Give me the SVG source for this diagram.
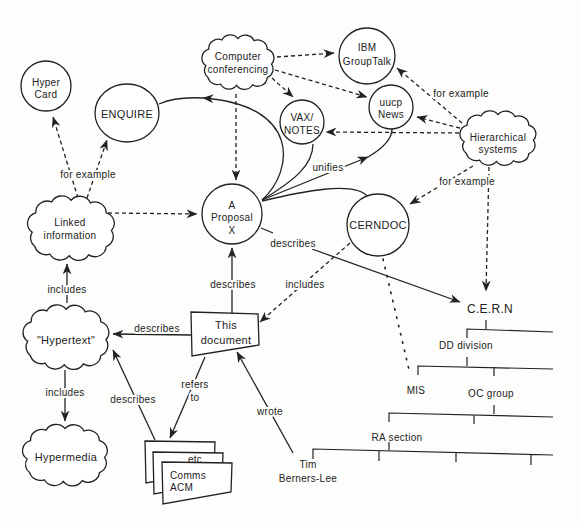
<svg xmlns="http://www.w3.org/2000/svg" xmlns:xlink="http://www.w3.org/1999/xlink" width="579" height="526" viewBox="0 0 579 526">
<style>
text{font-family:"Liberation Sans","DejaVu Sans",sans-serif;font-size:10px;fill:#222;text-anchor:middle;letter-spacing:0.3px}
.big{font-size:11px}
.lbl{paint-order:stroke;stroke:#fdfdfb;stroke-width:4px;stroke-linejoin:round}
.n{fill:#fff;stroke:#222;stroke-width:1.3}
.c{fill:none;stroke:#222;stroke-width:1.3}
.d{fill:none;stroke:#222;stroke-width:1.3;stroke-dasharray:4 3}
.dot{fill:none;stroke:#222;stroke-width:1.6;stroke-dasharray:1.5 7;stroke-linecap:round}
.t{fill:none;stroke:#222;stroke-width:1.2}
</style>
<defs>
<marker id="ah" viewBox="0 0 10 8" refX="9.5" refY="4" markerWidth="11" markerHeight="9" markerUnits="userSpaceOnUse" orient="auto"><path d="M0,0 L10,4 L0,8 L3,4 z" fill="#222"/></marker>
<path id="cloud" vector-effect="non-scaling-stroke" fill="#fff" stroke="#222" stroke-width="1.3" d="M-44,5 A13,13 0 0 1 -40,-18 A13,13 0 0 1 -22,-31 A13,13 0 0 1 0,-33 A13,13 0 0 1 22,-30 A13,13 0 0 1 40,-18 A13,13 0 0 1 46,3 A13,13 0 0 1 40,22 A13,13 0 0 1 20,32 A13,13 0 0 1 -2,33 A13,13 0 0 1 -24,31 A13,13 0 0 1 -41,22 A13,13 0 0 1 -44,5 Z"/>
</defs>
<rect width="579" height="526" fill="#fdfdfb"/>

<g id="connectors">
<path class="d" d="M78,198 L53,117" marker-end="url(#ah)"/>
<path class="d" d="M87,198 L107,140" marker-end="url(#ah)"/>
<path class="d" d="M108,213 L197,214" marker-end="url(#ah)"/>
<path class="d" d="M236,94 L236,180" marker-end="url(#ah)"/>
<path class="d" d="M277,57 L334,53" marker-end="url(#ah)"/>
<path class="d" d="M275,70 L367,97" marker-end="url(#ah)"/>
<path class="d" d="M272,78 L293,97" marker-end="url(#ah)"/>
<path class="d" d="M462,123 L397,68" marker-end="url(#ah)"/>
<path class="d" d="M460,128 L417,117" marker-end="url(#ah)"/>
<path class="d" d="M459,133 L326,132" marker-end="url(#ah)"/>
<path class="d" d="M473,166 L410,204" marker-end="url(#ah)"/>
<path class="d" d="M489,167 L486,291" marker-end="url(#ah)"/>
<path class="d" d="M350,243 L260,322" marker-end="url(#ah)"/>
<path class="dot" d="M383,259 L410,374"/>

<path class="c" d="M262,200 C295,170 300,105 203,98" marker-end="url(#ah)"/>
<path class="c" d="M203,98 C185,97 170,99 159,104"/>
<path class="c" d="M262,200 C295,180 313,165 313,144"/>
<path class="c" d="M262,200 L368,157" marker-end="url(#ah)"/>
<path class="c" d="M368,157 C380,150 392,140 392,129"/>
<path class="c" d="M262,201 C300,192 355,180 368,197"/>
<path class="c" d="M261,228 L273,233"/>
<path class="c" d="M312,249 L460,302" marker-end="url(#ah)"/>
<path class="c" d="M232,313 L232,248" marker-end="url(#ah)"/>
<path class="c" d="M192,335 L113,334" marker-end="url(#ah)"/>
<path class="c" d="M67,303 L67,264" marker-end="url(#ah)"/>
<path class="c" d="M65,370 L65,421" marker-end="url(#ah)"/>
<path class="c" d="M155,440 L113,350" marker-end="url(#ah)"/>
<path class="c" d="M205,357 L170,438" marker-end="url(#ah)"/>
<path class="c" d="M293,453 L237,352" marker-end="url(#ah)"/>

<text class="lbl" x="88" y="178">for example</text>
<text class="lbl" x="461" y="97">for example</text>
<text class="lbl" x="467" y="185">for example</text>
<text class="lbl" x="328" y="171">unifies</text>
<text class="lbl" x="293" y="247">describes</text>
<text class="lbl" x="305" y="288">includes</text>
<text class="lbl" x="233" y="288">describes</text>
<text class="lbl" x="157" y="332">describes</text>
<text class="lbl" x="67" y="293">includes</text>
<text class="lbl" x="65" y="396">includes</text>
<text class="lbl" x="133" y="403">describes</text>
<text class="lbl" x="195" y="388">refers</text>
<text class="lbl" x="195" y="401">to</text>
<text class="lbl" x="270" y="415">wrote</text>
</g>

<g id="hypercard"><circle class="n" cx="46" cy="86" r="25"/><text x="46" y="86">Hyper</text><text x="46" y="98">Card</text></g>
<g id="enquire"><ellipse class="n" cx="127" cy="113" rx="32" ry="29"/><text class="big" x="127" y="118">ENQUIRE</text></g>
<g id="conferencing"><use xlink:href="#cloud" transform="translate(238,62) scale(0.73,0.71)"/><text x="238" y="60">Computer</text><text x="238" y="73">conferencing</text></g>
<g id="ibm"><circle class="n" cx="367" cy="56" r="28"/><text x="367" y="51">IBM</text><text x="367" y="65">GroupTalk</text></g>
<g id="uucp"><circle class="n" cx="391" cy="107" r="22"/><text x="391" y="106">uucp</text><text x="391" y="118">News</text></g>
<g id="vax"><circle class="n" cx="302" cy="122" r="22"/><text x="302" y="121">VAX/</text><text x="302" y="134">NOTES</text></g>
<g id="hierarchical"><use xlink:href="#cloud" transform="translate(498,138) scale(0.77,0.71)"/><text x="498" y="141">Hierarchical</text><text x="498" y="153">systems</text></g>
<g id="proposal"><circle class="n" cx="232" cy="214" r="30"/><text x="232" y="209">A</text><text x="232" y="221">Proposal</text><text x="232" y="234">X</text></g>
<g id="cerndoc"><circle class="n" cx="378" cy="225" r="31"/><text class="big" x="378" y="229">CERNDOC</text></g>
<g id="linked"><use xlink:href="#cloud" transform="translate(71,228) scale(0.88,0.84)"/><text x="70" y="226">Linked</text><text x="70" y="239">information</text></g>
<g id="hypertext"><use xlink:href="#cloud" transform="translate(66,337) scale(0.87,0.84)"/><text class="big" x="66" y="344">"Hypertext"</text></g>
<g id="hypermedia"><use xlink:href="#cloud" transform="translate(65,455) scale(0.86,0.8)"/><text class="big" x="66" y="461">Hypermedia</text></g>
<g id="thisdoc"><path class="n" d="M191,312 L258,314 L259,345 L192,356 Z"/><text class="big" x="226" y="329">This</text><text class="big" x="226" y="344">document</text></g>
<g id="refs">
<path class="n" d="M145,441 L215,442 L214,471 L146,483 Z"/>
<path class="n" d="M153,452 L223,453 L222,482 L154,494 Z"/>
<text x="195" y="463">etc</text>
<path class="n" d="M162,462 L232,463 L231,492 L163,504 Z"/>
<text x="170" y="479" style="text-anchor:start">Comms</text>
<text x="170" y="491" style="text-anchor:start">ACM</text>
</g>
<g id="cern">
<text class="big" x="490" y="313" style="font-size:12px">C.E.R.N</text>
<path class="t" d="M486,320 V329 M467,338 V329 L553,332"/>
<text x="466" y="349">DD division</text>
<path class="t" d="M467,357 V366 M418,375 V366 L553,369 M494,367 V376"/>
<text x="416" y="394">MIS</text>
<text x="491" y="397">OC group</text>
<path class="t" d="M494,405 V414 M389,422 V413 L553,417 M474,415 V424"/>
<text x="397" y="441">RA section</text>
<path class="t" d="M389,442 V450 M313,459 V449 L553,455 M379,451 V461 M456,452 V462 M531,454 V465"/>
</g>
<g id="tbl"><text x="308" y="468">Tim</text><text x="308" y="482">Berners-Lee</text></g>
</svg>
